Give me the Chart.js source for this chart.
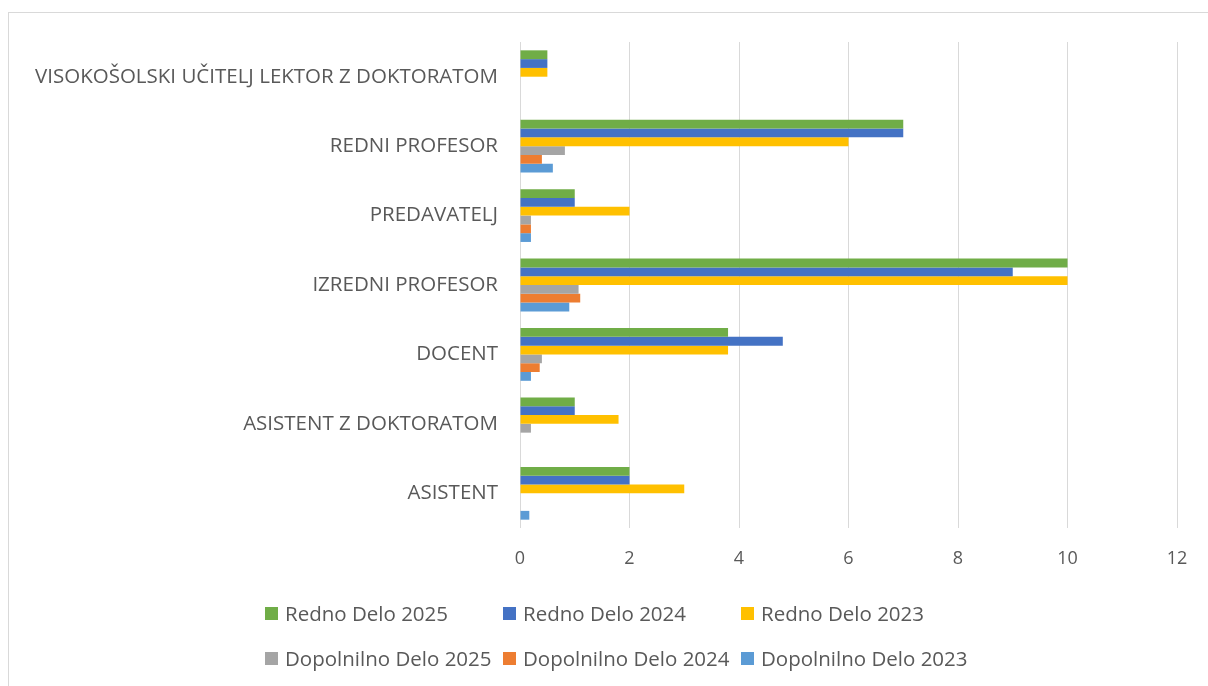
<!DOCTYPE html>
<html>
<head>
<meta charset="utf-8">
<script src="https://cdn.jsdelivr.net/npm/chart.js@4/dist/chart.umd.min.js"></script>
<style>
  html, body { margin: 0; padding: 0; background: #fff; width: 1208px; height: 686px; overflow: hidden; }
  #frame { position: absolute; left: 8px; top: 12px; width: 1300px; height: 800px; border: 1px solid #d9d9d9; box-sizing: border-box; pointer-events: none; }
  #wrap { position: absolute; left: 0; top: 0; width: 1208px; height: 686px; }
  #legend { position: absolute; left: 0; top: 0; width: 1208px; height: 686px; pointer-events: none; font-family: "Open Sans", sans-serif; font-size: 20.5px; color: #595959; }
  .item { position: absolute; display: flex; align-items: center; white-space: nowrap; }
  .sw { width: 13px; height: 13px; margin-right: 7px; }
</style>
</head>
<body>
<div id="frame"></div>
<div id="wrap"><canvas id="c" width="1208" height="686"></canvas></div>
<div id="legend"></div>
<script>
const categories = [
  "VISOKOŠOLSKI UČITELJ LEKTOR Z DOKTORATOM",
  "REDNI PROFESOR",
  "PREDAVATELJ",
  "IZREDNI PROFESOR",
  "DOCENT",
  "ASISTENT Z DOKTORATOM",
  "ASISTENT"
];
const seriesNames = [
  "Redno Delo 2025", "Redno Delo 2024", "Redno Delo 2023",
  "Dopolnilno Delo 2025", "Dopolnilno Delo 2024", "Dopolnilno Delo 2023"
];
const redno2025 = [0.5, 7, 1, 10, 3.8, 1, 2];
const redno2024 = [0.5, 7, 1, 9, 4.8, 1, 2];
const redno2023 = [0.5, 6, 2, 10, 3.8, 1.8, 3];
const dopolnilno2025 = [0, 0.82, 0.2, 1.07, 0.4, 0.2, 0];
const dopolnilno2024 = [0, 0.4, 0.2, 1.1, 0.36, 0, 0];
const dopolnilno2023 = [0, 0.6, 0.2, 0.9, 0.2, 0, 0.17];
const xTicks = [0, 2, 4, 6, 8, 10, 12];
const colors = ["#70AD47", "#4472C4", "#FFC000", "#A5A5A5", "#ED7D31", "#5B9BD5"];

const values = [redno2025, redno2024, redno2023, dopolnilno2025, dopolnilno2024, dopolnilno2023];
const datasets = values.map((v, i) => ({
  label: seriesNames[i],
  data: v,
  backgroundColor: colors[i],
  borderWidth: 0,
  categoryPercentage: 0.76,
  barPercentage: 1.0
}));

const FONT = "'Open Sans', sans-serif";
new Chart(document.getElementById('c'), {
  type: 'bar',
  data: { labels: categories, datasets },
  options: {
    indexAxis: 'y',
    responsive: false,
    animation: false,
    layout: { padding: { left: 0, right: 31, top: 42, bottom: 118 } },
    plugins: { legend: { display: false }, tooltip: { enabled: false } },
    scales: {
      x: {
        min: 0, max: 12,
        afterBuildTicks: (s) => { s.ticks = xTicks.map(v => ({ value: v })); },
        afterFit: (s) => { s.height = 40; },
        grid: { color: '#d9d9d9', lineWidth: 1, drawTicks: false },
        border: { display: false },
        ticks: { padding: 20, color: '#595959', font: { family: FONT, size: 18 } }
      },
      y: {
        afterFit: (s) => { s.width = 520; },
        grid: { display: false, drawTicks: false },
        border: { display: false },
        ticks: { padding: 22, color: '#595959', font: { family: FONT, size: 20.5 }, autoSkip: false }
      }
    }
  }
});

// HTML legend laid out in two rows of three
const leg = document.getElementById('legend');
const colX = [265, 503, 741];
const rowY = [613, 658];
seriesNames.forEach((name, i) => {
  const d = document.createElement('div');
  d.className = 'item';
  d.style.left = colX[i % 3] + 'px';
  d.style.top = (rowY[Math.floor(i / 3)] - 14) + 'px';
  d.style.height = '28px';
  const sw = document.createElement('span');
  sw.className = 'sw';
  sw.style.background = colors[i];
  const t = document.createElement('span');
  t.textContent = name;
  d.appendChild(sw); d.appendChild(t);
  leg.appendChild(d);
});
</script>
</body>
</html>
